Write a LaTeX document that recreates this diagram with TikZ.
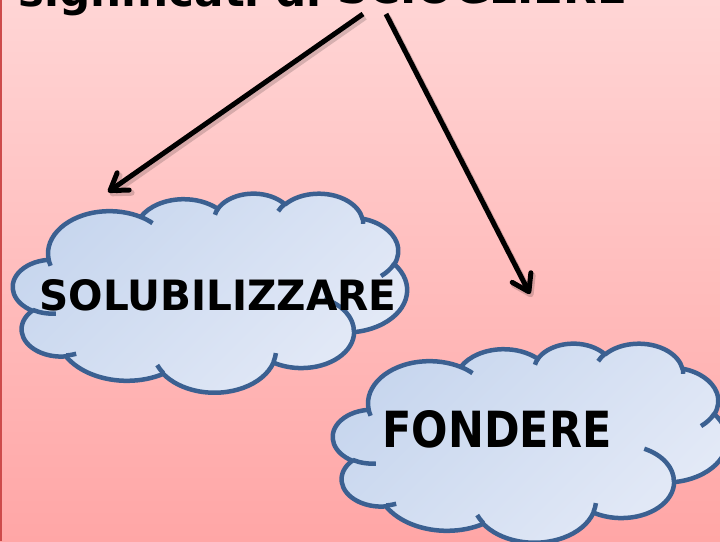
\documentclass[tikz,border=0pt]{standalone}
\usepackage{fontspec}
\usepackage{graphicx}
\usetikzlibrary{arrows.meta}
\newfontfamily\comicfont{DejaVu Sans}[BoldFont={DejaVu Sans Bold}]
\definecolor{bgTop}{RGB}{255,213,213}
\definecolor{bgBot}{RGB}{255,166,166}
\definecolor{borderRed}{RGB}{205,75,75}
\definecolor{cloudLine}{RGB}{59,96,145}
\definecolor{cloudA}{RGB}{199,214,238}
\definecolor{cloudB}{RGB}{228,234,247}

% PowerPoint-like cloud, built in a 43.2 x 43.2 pt box (y downward)
\def\ooOutline{}
\def\ooInner{}
\newcommand\ooArc[5]{%
  \pgfmathsetmacro\ooTa{atan2(#2*sin(#4),#3*cos(#4))}%
  \pgfmathsetmacro\ooTb{atan2(#2*sin(#4+#5),#3*cos(#4+#5))}%
  \pgfmathsetmacro\ooD{\ooTb-\ooTa}%
  \pgfmathsetmacro\ooD{ifthenelse(\ooD<0,\ooD+360,\ooD)}%
  \xdef#1{#1 arc[start angle=\ooTa, delta angle=\ooD, x radius=#2pt, y radius=#3pt]}%
}
\newcommand\ooMove[3]{\xdef#1{#1 (#2pt,#3pt)}}

\ooMove\ooOutline{3.900}{14.370}
\ooArc\ooOutline{6.753}{9.190}{-190.4875}{123.7805}
\ooArc\ooOutline{5.333}{7.267}{-144.1024}{89.9452}
\ooArc\ooOutline{4.365}{5.945}{-145.8079}{99.7230}
\ooArc\ooOutline{4.857}{6.595}{-130.9861}{117.2417}
\ooArc\ooOutline{5.333}{7.273}{-78.7089}{109.0269}
\ooArc\ooOutline{6.775}{9.220}{-46.2673}{130.2690}
\ooArc\ooOutline{5.785}{7.867}{0.6250}{114.0333}
\ooArc\ooOutline{6.752}{9.215}{22.4516}{115.1726}
\ooArc\ooOutline{7.720}{10.543}{66.2426}{75.7110}
\ooArc\ooOutline{4.360}{5.918}{-274.9421}{146.7356}
\ooArc\ooOutline{4.345}{5.945}{-246.8285}{152.5189}

\ooMove\ooInner{4.693}{26.177}\ooArc\ooInner{4.345}{5.945}{86.7420}{26.4295}
\ooMove\ooInner{6.928}{34.899}\ooArc\ooInner{4.360}{5.918}{73.6105}{11.4475}
\ooMove\ooInner{16.478}{39.090}\ooArc\ooInner{6.752}{9.215}{137.6242}{14.0811}
\ooMove\ooInner{28.827}{34.751}\ooArc\ooInner{6.752}{9.215}{6.4533}{15.9984}
\ooMove\ooInner{34.129}{22.954}\ooArc\ooInner{5.785}{7.867}{-70.2924}{70.9174}
\ooMove\ooInner{41.798}{15.354}\ooArc\ooInner{5.333}{7.273}{30.3180}{27.7515}
\ooMove\ooInner{38.324}{5.426}\ooArc\ooInner{4.857}{6.595}{-13.7443}{14.8589}
\ooMove\ooInner{29.078}{3.952}\ooArc\ooInner{4.857}{6.595}{-149.1815}{18.1954}
\ooMove\ooInner{22.141}{4.720}\ooArc\ooInner{4.365}{5.945}{-163.4943}{17.6864}
\ooMove\ooInner{14.000}{5.192}\ooArc\ooInner{6.753}{9.190}{-66.7070}{12.3194}
\ooMove\ooInner{4.127}{15.789}\ooArc\ooInner{6.753}{9.190}{157.6544}{11.8582}

\tikzset{
  cloudline/.style={line width=4.5pt, draw=cloudLine, line join=round},
  arrowline/.style={line width=5pt, draw=black,
    -{Straight Barb[length=16pt,width=21pt,line cap=round,line join=round]}},
  arrowshadow/.style={line width=6pt, draw=black, opacity=0.16,
    -{Straight Barb[length=16pt,width=21pt,line cap=round,line join=round]},
    transform canvas={shift={(2pt,-3pt)}}},
  wordtext/.style={inner sep=0pt, font=\comicfont\bfseries}
}
\newcommand\drawcloud[2]{%
  \begin{scope}[shift={(#1,#2)}, xscale=394/43.2, yscale=-199/43.2]
    \shade[top color=cloudA, bottom color=cloudB, shading angle=45] \ooOutline -- cycle;
    \draw[cloudline] \ooOutline -- cycle;
    \draw[cloudline] \ooInner;
  \end{scope}}

\begin{document}
\begin{tikzpicture}[x=1pt,y=-1pt]
\useasboundingbox (0,0) rectangle (720,541);
\clip (0,0) rectangle (720,541);
\shade[top color=bgTop, bottom color=bgBot] (0,0) rectangle (720,541);
\draw[borderRed, line width=2pt] (1,0) -- (1,541);

% title (cut off at the top, as in the reference)
\node[wordtext, anchor=base west] (title1) at (18,6) {\resizebox{303pt}{!}{significati di}};
\node[wordtext, anchor=base west] (title2) at (337,3) {\resizebox{290pt}{!}{SCIOGLIERE}};

% clouds
\drawcloud{13}{193}
\drawcloud{333}{343}

\node[wordtext] (sol) at (218,295) {\resizebox{357pt}{31pt}{SOLUBILIZZARE}};
\node[wordtext] (fon) at (497,429) {\resizebox{229pt}{37pt}{FONDERE}};

% arrows
\coordinate (a1s) at (363,14);
\coordinate (a1e) at (108,192);
\coordinate (a2s) at (386,14);
\coordinate (a2e) at (530,294);
\draw[arrowshadow] (a1s) -- (a1e);
\draw[arrowshadow] (a2s) -- (a2e);
\draw[arrowline] (a1s) -- (a1e);
\draw[arrowline] (a2s) -- (a2e);
\end{tikzpicture}
\end{document}
